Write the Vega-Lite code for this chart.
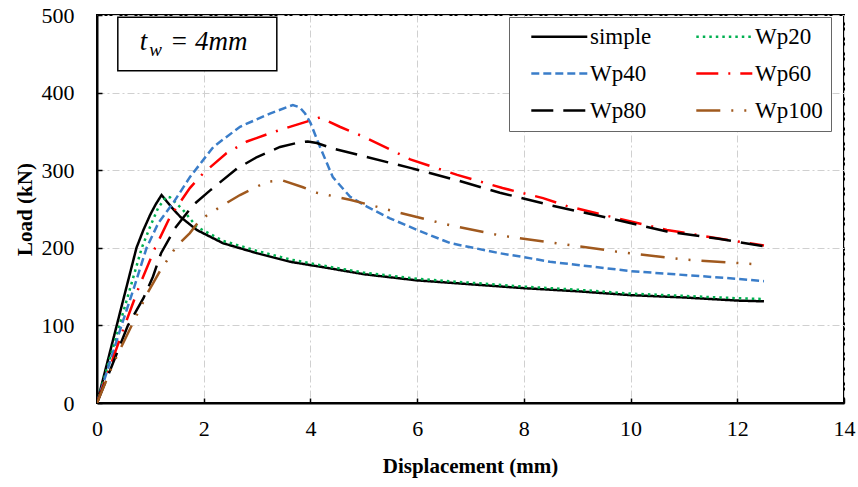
{
  "$schema": "https://vega.github.io/schema/vega-lite/v6.json",
  "width": 747,
  "height": 388,
  "autosize": "none",
  "padding": {"left": 97, "top": 15, "right": 14, "bottom": 84},
  "background": "white",
  "datasets": {
    "curves": [
      {"series": "simple", "x": 0, "y": 0}, {"series": "simple", "x": 0.37, "y": 100}, {"series": "simple", "x": 0.74, "y": 200}, {"series": "simple", "x": 0.87, "y": 223}, {"series": "simple", "x": 1.0, "y": 243}, {"series": "simple", "x": 1.1, "y": 256}, {"series": "simple", "x": 1.21, "y": 268}, {"series": "simple", "x": 1.4, "y": 252}, {"series": "simple", "x": 1.56, "y": 240}, {"series": "simple", "x": 1.87, "y": 223}, {"series": "simple", "x": 2.36, "y": 206}, {"series": "simple", "x": 3.0, "y": 193}, {"series": "simple", "x": 3.62, "y": 182}, {"series": "simple", "x": 4.24, "y": 175}, {"series": "simple", "x": 5, "y": 166}, {"series": "simple", "x": 6, "y": 158}, {"series": "simple", "x": 7, "y": 153}, {"series": "simple", "x": 8, "y": 148}, {"series": "simple", "x": 9, "y": 144}, {"series": "simple", "x": 10, "y": 139}, {"series": "simple", "x": 11, "y": 136}, {"series": "simple", "x": 12, "y": 132}, {"series": "simple", "x": 12.5, "y": 131},
      {"series": "Wp20", "x": 0, "y": 0}, {"series": "Wp20", "x": 0.42, "y": 100}, {"series": "Wp20", "x": 0.84, "y": 200}, {"series": "Wp20", "x": 1.0, "y": 228}, {"series": "Wp20", "x": 1.15, "y": 252}, {"series": "Wp20", "x": 1.3, "y": 266}, {"series": "Wp20", "x": 1.37, "y": 265}, {"series": "Wp20", "x": 1.61, "y": 249}, {"series": "Wp20", "x": 1.87, "y": 227}, {"series": "Wp20", "x": 2.36, "y": 209}, {"series": "Wp20", "x": 3.0, "y": 196}, {"series": "Wp20", "x": 3.62, "y": 185}, {"series": "Wp20", "x": 4.24, "y": 177}, {"series": "Wp20", "x": 5, "y": 168}, {"series": "Wp20", "x": 6, "y": 160}, {"series": "Wp20", "x": 7, "y": 155}, {"series": "Wp20", "x": 8, "y": 150}, {"series": "Wp20", "x": 9, "y": 146}, {"series": "Wp20", "x": 10, "y": 141}, {"series": "Wp20", "x": 11, "y": 138}, {"series": "Wp20", "x": 12, "y": 135}, {"series": "Wp20", "x": 12.5, "y": 134},
      {"series": "Wp40", "x": 0, "y": 0}, {"series": "Wp40", "x": 0.23, "y": 50}, {"series": "Wp40", "x": 0.46, "y": 100}, {"series": "Wp40", "x": 0.7, "y": 150}, {"series": "Wp40", "x": 0.93, "y": 200}, {"series": "Wp40", "x": 1.15, "y": 232}, {"series": "Wp40", "x": 1.43, "y": 258}, {"series": "Wp40", "x": 1.74, "y": 291}, {"series": "Wp40", "x": 2.18, "y": 330}, {"series": "Wp40", "x": 2.68, "y": 356}, {"series": "Wp40", "x": 3.24, "y": 373}, {"series": "Wp40", "x": 3.67, "y": 384}, {"series": "Wp40", "x": 3.8, "y": 381}, {"series": "Wp40", "x": 3.9, "y": 373}, {"series": "Wp40", "x": 4.0, "y": 361}, {"series": "Wp40", "x": 4.18, "y": 330}, {"series": "Wp40", "x": 4.42, "y": 291}, {"series": "Wp40", "x": 4.74, "y": 266}, {"series": "Wp40", "x": 5.06, "y": 253}, {"series": "Wp40", "x": 5.49, "y": 238}, {"series": "Wp40", "x": 6.0, "y": 223}, {"series": "Wp40", "x": 6.62, "y": 206}, {"series": "Wp40", "x": 7.55, "y": 193}, {"series": "Wp40", "x": 8.0, "y": 188}, {"series": "Wp40", "x": 8.49, "y": 182}, {"series": "Wp40", "x": 10, "y": 170}, {"series": "Wp40", "x": 12, "y": 160}, {"series": "Wp40", "x": 12.5, "y": 157},
      {"series": "Wp60", "x": 0, "y": 0}, {"series": "Wp60", "x": 0.25, "y": 48}, {"series": "Wp60", "x": 0.52, "y": 100}, {"series": "Wp60", "x": 0.8, "y": 152}, {"series": "Wp60", "x": 1.09, "y": 200}, {"series": "Wp60", "x": 1.37, "y": 240}, {"series": "Wp60", "x": 1.74, "y": 277}, {"series": "Wp60", "x": 1.99, "y": 296}, {"series": "Wp60", "x": 2.43, "y": 322}, {"series": "Wp60", "x": 2.81, "y": 337}, {"series": "Wp60", "x": 3.3, "y": 349}, {"series": "Wp60", "x": 3.9, "y": 362}, {"series": "Wp60", "x": 4.18, "y": 368}, {"series": "Wp60", "x": 4.55, "y": 356}, {"series": "Wp60", "x": 5.0, "y": 343}, {"series": "Wp60", "x": 5.87, "y": 314}, {"series": "Wp60", "x": 6.75, "y": 294}, {"series": "Wp60", "x": 7.6, "y": 277}, {"series": "Wp60", "x": 8.36, "y": 264}, {"series": "Wp60", "x": 8.8, "y": 254}, {"series": "Wp60", "x": 9.75, "y": 238}, {"series": "Wp60", "x": 10.68, "y": 223}, {"series": "Wp60", "x": 11.92, "y": 209}, {"series": "Wp60", "x": 12.5, "y": 203},
      {"series": "Wp80", "x": 0, "y": 0}, {"series": "Wp80", "x": 0.28, "y": 48}, {"series": "Wp80", "x": 0.58, "y": 100}, {"series": "Wp80", "x": 0.87, "y": 135}, {"series": "Wp80", "x": 1.05, "y": 163}, {"series": "Wp80", "x": 1.2, "y": 193}, {"series": "Wp80", "x": 1.46, "y": 225}, {"series": "Wp80", "x": 1.8, "y": 255}, {"series": "Wp80", "x": 2.12, "y": 274}, {"series": "Wp80", "x": 2.62, "y": 302}, {"series": "Wp80", "x": 3.0, "y": 317}, {"series": "Wp80", "x": 3.43, "y": 330}, {"series": "Wp80", "x": 3.8, "y": 336}, {"series": "Wp80", "x": 3.95, "y": 337}, {"series": "Wp80", "x": 4.12, "y": 335}, {"series": "Wp80", "x": 4.42, "y": 328}, {"series": "Wp80", "x": 5.87, "y": 303}, {"series": "Wp80", "x": 6.75, "y": 287}, {"series": "Wp80", "x": 7.55, "y": 271}, {"series": "Wp80", "x": 8.49, "y": 255}, {"series": "Wp80", "x": 9.61, "y": 238}, {"series": "Wp80", "x": 10.68, "y": 221}, {"series": "Wp80", "x": 11.62, "y": 212}, {"series": "Wp80", "x": 12.5, "y": 202},
      {"series": "Wp100", "x": 0, "y": 0}, {"series": "Wp100", "x": 0.3, "y": 50}, {"series": "Wp100", "x": 0.65, "y": 100}, {"series": "Wp100", "x": 0.95, "y": 142}, {"series": "Wp100", "x": 1.18, "y": 170}, {"series": "Wp100", "x": 1.48, "y": 201}, {"series": "Wp100", "x": 1.74, "y": 219}, {"series": "Wp100", "x": 1.93, "y": 236}, {"series": "Wp100", "x": 2.36, "y": 255}, {"series": "Wp100", "x": 2.68, "y": 268}, {"series": "Wp100", "x": 3.18, "y": 285}, {"series": "Wp100", "x": 3.47, "y": 287}, {"series": "Wp100", "x": 3.86, "y": 278}, {"series": "Wp100", "x": 4.12, "y": 271}, {"series": "Wp100", "x": 4.74, "y": 262}, {"series": "Wp100", "x": 5.68, "y": 245}, {"series": "Wp100", "x": 6.62, "y": 229}, {"series": "Wp100", "x": 7.55, "y": 216}, {"series": "Wp100", "x": 8.49, "y": 207}, {"series": "Wp100", "x": 9.75, "y": 195}, {"series": "Wp100", "x": 10.98, "y": 185}, {"series": "Wp100", "x": 12.3, "y": 179}
    ]
  },
  "layer": [
    {
      "data": {"name": "curves"},
      "mark": {"type": "line", "strokeWidth": 2.5, "clip": true},
      "encoding": {
        "x": {
          "field": "x", "type": "quantitative",
          "scale": {"domain": [0, 14], "nice": false},
          "axis": {"values": [0, 2, 4, 6, 8, 10, 12, 14], "title": "Displacement (mm)", "titleX": 373, "titleY": 63, "titleBaseline": "middle",
                   "labelFont": "Liberation Serif", "labelFontSize": 22, "labelColor": "black", "labelPadding": 30, "labelBaseline": "middle", "labelFlush": false}
        },
        "y": {
          "field": "y", "type": "quantitative",
          "scale": {"domain": [0, 500], "nice": false},
          "axis": {"values": [0, 100, 200, 300, 400, 500], "title": "Load (kN)", "titleX": -72, "titleY": 194, "titleBaseline": "middle", "titleAngle": -90,
                   "labelFont": "Liberation Serif", "labelFontSize": 22, "labelColor": "black", "labelPadding": 28, "labelFlush": false}
        },
        "color": {
          "field": "series", "type": "nominal", "title": null,
          "scale": {
            "domain": ["simple", "Wp20", "Wp40", "Wp60", "Wp80", "Wp100"],
            "range": ["#000000", "#00B050", "#3A7DC9", "#FF0000", "#000000", "#A0591E"]
          }
        },
        "strokeDash": {
          "field": "series", "type": "nominal", "title": null,
          "scale": {
            "domain": ["simple", "Wp20", "Wp40", "Wp60", "Wp80", "Wp100"],
            "range": [[1, 0], [2.5, 4], [8, 4], [22, 10, 2, 10], [22, 10], [24, 11, 2, 11, 2, 11]]
          }
        },
        "order": {"field": "x", "type": "quantitative"}
      }
    },
    {
      "data": {"values": [{"box": "tw"}]},
      "mark": {"type": "rect", "fill": "white", "stroke": "black", "strokeWidth": 1.5},
      "encoding": {
        "x": {"datum": 0.39, "type": "quantitative"},
        "x2": {"datum": 3.37},
        "y": {"datum": 497, "type": "quantitative"},
        "y2": {"datum": 428}
      }
    },
    {
      "data": {"values": [{"box": "tw"}]},
      "mark": {"type": "text", "text": "t", "font": "Liberation Serif", "fontStyle": "italic", "fontSize": 27, "align": "left", "baseline": "middle", "color": "black"},
      "encoding": {"x": {"datum": 0.8, "type": "quantitative"}, "y": {"datum": 465, "type": "quantitative"}}
    },
    {
      "data": {"values": [{"box": "tw"}]},
      "mark": {"type": "text", "text": "w", "font": "Liberation Serif", "fontStyle": "italic", "fontSize": 19, "align": "left", "baseline": "middle", "color": "black"},
      "encoding": {"x": {"datum": 0.98, "type": "quantitative"}, "y": {"datum": 455, "type": "quantitative"}}
    },
    {
      "data": {"values": [{"box": "tw"}]},
      "mark": {"type": "text", "text": "= 4mm", "font": "Liberation Serif", "fontStyle": "italic", "fontSize": 27, "align": "left", "baseline": "middle", "color": "black"},
      "encoding": {"x": {"datum": 1.37, "type": "quantitative"}, "y": {"datum": 465, "type": "quantitative"}}
    }
  ],
  "config": {
    "view": {"stroke": "black", "strokeWidth": 2},
    "axis": {
      "labelFont": "Liberation Serif", "labelFontSize": 22, "labelColor": "black",
      "titleFont": "Liberation Serif", "titleFontSize": 21, "titleFontWeight": "bold", "titleColor": "black",
      "domainColor": "black", "domainWidth": 2,
      "tickColor": "black", "tickWidth": 1.5, "tickSize": -5,
      "grid": true, "gridColor": "#d0d0d0", "gridDash": [7, 3, 2, 3], "gridWidth": 1
    },
    "legend": {
      "orient": "none", "legendX": 412, "legendY": 2, "direction": "horizontal",
      "columns": 2, "symbolType": "M0.4,0H8.4", "symbolSize": 196, "symbolStrokeWidth": 2.5,
      "labelFont": "Liberation Serif", "labelFontSize": 23, "labelColor": "black", "labelOffset": 50,
      "fillColor": "white", "strokeColor": "#666666", "padding": 8,
      "rowPadding": 13, "columnPadding": 30
    }
  }
}
